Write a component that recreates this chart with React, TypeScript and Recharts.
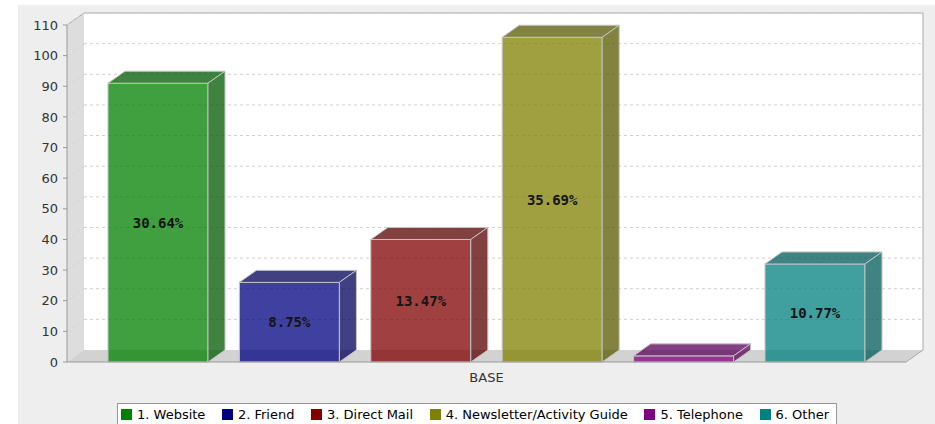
import React from 'react';
import { BarChart, Bar, XAxis, YAxis, ReferenceArea, ReferenceLine, LabelList } from 'recharts';

const categories = ['BASE'];
const seriesNames = ['1. Website', '2. Friend', '3. Direct Mail', '4. Newsletter/Activity Guide', '5. Telephone', '6. Other'];
const seriesValues = [91, 26, 40, 106, 2, 32];
const seriesColors = ['#008000', '#000080', '#800000', '#808000', '#800080', '#008080'];
const yTicks = [0, 10, 20, 30, 40, 50, 60, 70, 80, 90, 100, 110];

const total = seriesValues.reduce((a, b) => a + b, 0);
const keys = seriesNames.map((_, i) => `s${i}`);
const data = categories.map((c) => {
  const row: any = { name: c };
  keys.forEach((k, i) => (row[k] = seriesValues[i]));
  return row;
});

const DX = 17;
const DY = 12;
const FONT = '"DejaVu Sans", sans-serif';

function darker(hex: string) {
  const n = parseInt(hex.slice(1), 16);
  const r = Math.floor(((n >> 16) & 255) * 0.7);
  const g = Math.floor(((n >> 8) & 255) * 0.7);
  const b = Math.floor((n & 255) * 0.7);
  return `rgb(${r},${g},${b})`;
}

const Box3D = (props: any) => {
  const { x, y, width: w, height: h, fill } = props;
  if (w == null || h == null) return null;
  const d = darker(fill);
  const stroke = '#c4c4c4';
  return (
    <g>
      <rect x={x} y={y} width={w} height={h} fill={fill} fillOpacity={0.75} stroke={stroke} strokeWidth={1} />
      <polygon
        points={`${x},${y} ${x + DX},${y - DY} ${x + w + DX},${y - DY} ${x + w},${y}`}
        fill={d}
        fillOpacity={0.75}
        stroke={stroke}
        strokeWidth={1}
      />
      <polygon
        points={`${x + w},${y} ${x + w + DX},${y - DY} ${x + w + DX},${y + h - DY} ${x + w},${y + h}`}
        fill={d}
        fillOpacity={0.75}
        stroke={stroke}
        strokeWidth={1}
      />
    </g>
  );
};

const Walls = (props: any) => {
  const { x, y, width: w, height: h } = props;
  if (x == null) return null;
  const outline = '#a8a8a8';
  return (
    <g>
      <rect x={x + DX} y={y - DY} width={w} height={h} fill="#ffffff" />
      <polygon points={`${x},${y + h} ${x},${y} ${x + DX},${y - DY} ${x + DX},${y + h - DY}`} fill="#dddddd" />
      <polygon points={`${x},${y + h} ${x + w},${y + h} ${x + w + DX},${y + h - DY} ${x + DX},${y + h - DY}`} fill="#d2d2d2" />
      <polyline
        points={`${x},${y} ${x + DX},${y - DY} ${x + w + DX},${y - DY} ${x + w + DX},${y + h - DY} ${x + w},${y + h}`}
        fill="none"
        stroke={outline}
        strokeWidth={1}
      />
    </g>
  );
};

const GridLine = (props: any) => {
  const { x1, y1, x2 } = props;
  if (x1 == null || y1 == null) return null;
  return (
    <g>
      <line x1={x1} y1={y1} x2={x1 + DX} y2={y1 - DY} stroke="#d4d4d4" strokeWidth={1} strokeDasharray="3 3" />
      <line x1={x1 + DX} y1={y1 - DY} x2={x2 + DX} y2={y1 - DY} stroke="#d0d0d0" strokeWidth={1} strokeDasharray="3 3" />
    </g>
  );
};

const PctLabel = (props: any) => {
  const { x, y, width, height, value } = props;
  if (height == null || height < 20) return null;
  const pct = ((Number(value) / total) * 100).toFixed(2) + '%';
  return (
    <text
      x={x + width / 2}
      y={y + height / 2}
      textAnchor="middle"
      dominantBaseline="central"
      fontFamily='"DejaVu Sans Mono", monospace'
      fontWeight="bold"
      fontSize={14}
      fill="#141414"
    >
      {pct}
    </text>
  );
};

export default function App() {
  return (
    <div style={{ position: 'absolute', left: 0, top: 0, width: 935, height: 424, background: '#ffffff', overflow: 'hidden' }}>
      <div style={{ position: 'absolute', left: 18, top: 5, right: 0, bottom: 0, background: '#eeeeee' }} />
      <div style={{ position: 'absolute', left: 0, top: 0 }}>
        <BarChart
          width={935}
          height={424}
          data={data}
          margin={{ top: 25, right: 29, bottom: 32, left: 0 }}
          barCategoryGap={41}
          barGap={31.4}
          style={{ fontFamily: FONT }}
        >
          <ReferenceArea y1={0} y2={110} shape={Walls} zIndex={50} ifOverflow="visible" />
          {yTicks.filter((t) => t > 0).map((t) => (
            <ReferenceLine key={t} y={t} shape={GridLine} zIndex={60} ifOverflow="visible" />
          ))}
          <XAxis
            dataKey="name"
            height={30}
            axisLine={{ stroke: '#999999' }}
            tickLine={false}
            tickSize={6}
            tickMargin={5}
            tick={{ fill: '#333333', fontSize: 13, fontFamily: FONT }}
          />
          <YAxis
            width={67}
            domain={[0, 110]}
            ticks={yTicks}
            interval={0}
            axisLine={{ stroke: '#999999' }}
            tickLine={{ stroke: '#999999' }}
            tickSize={4}
            tickMargin={5}
            tick={{ fill: '#333333', fontSize: 13, fontFamily: FONT }}
          />
          {keys.map((k, i) => (
            <Bar key={k} dataKey={k} name={seriesNames[i]} fill={seriesColors[i]} shape={Box3D} isAnimationActive={false}>
              <LabelList dataKey={k} content={PctLabel} />
            </Bar>
          ))}
        </BarChart>
      </div>
      <div
        style={{
          position: 'absolute',
          left: 117,
          top: 403,
          width: 720,
          height: 22,
          boxSizing: 'border-box',
          border: '1px solid #999999',
          background: '#ffffff',
          display: 'flex',
          alignItems: 'center',
          justifyContent: 'space-between',
          padding: '0 7px 0 3px',
          fontFamily: FONT,
          fontSize: 13,
          color: '#000000',
        }}
      >
        {seriesNames.map((n, i) => (
          <div key={n} style={{ display: 'flex', alignItems: 'center', whiteSpace: 'nowrap' }}>
            <span style={{ display: 'inline-block', width: 11, height: 11, background: seriesColors[i], marginRight: 5 }} />
            <span>{n}</span>
          </div>
        ))}
      </div>
    </div>
  );
}
